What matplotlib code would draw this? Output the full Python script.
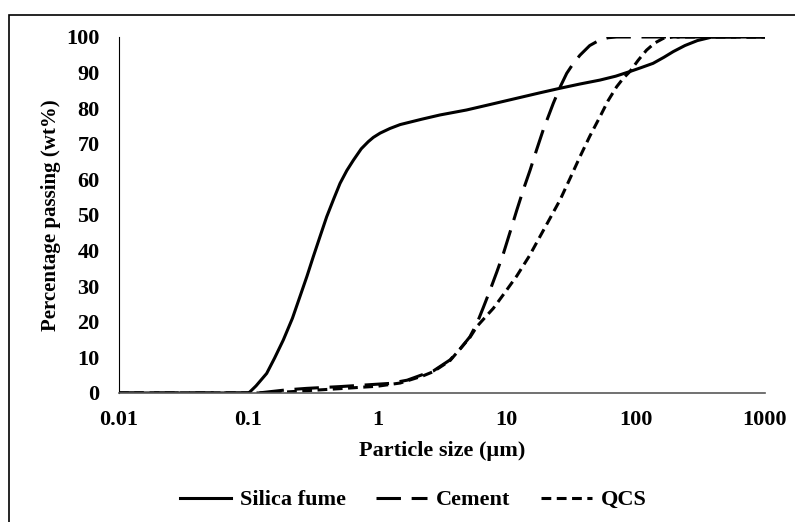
import numpy as np
import matplotlib.pyplot as plt
from matplotlib.patches import Rectangle

# particle size (um) and percentage passing
sf_size = [0.01, 0.1, 0.103, 0.115, 0.139, 0.16, 0.187, 0.22, 0.251, 0.285, 0.319, 0.36, 0.405,
           0.46, 0.514, 0.58, 0.652, 0.75, 0.85, 0.93, 1.05, 1.25, 1.5, 2.2, 3.05, 4.9, 8, 12, 18, 25.9,
           37, 52.8, 70, 90, 110, 136, 165, 195, 240, 300, 390, 1000]
sf_pass = [0, 0, 0.3, 2, 5.5, 9.8, 14.9, 21, 27, 32.8, 38.3, 44, 49.5,
           54.6, 58.9, 62.5, 65.4, 68.6, 70.6, 71.8, 73, 74.3, 75.4, 76.9, 78.1, 79.5, 81.3, 82.8, 84.3, 85.6,
           86.8, 87.9, 89, 90.3, 91.4, 92.6, 94.3, 95.9, 97.6, 99, 100, 100]

cem_size = [0.01, 0.12, 0.15, 0.2, 0.284, 0.514, 1.25, 1.7, 2.25, 2.71, 3.65, 4.4, 5.2, 5.9, 6.6,
            7.45, 8.4, 9.45, 10.7, 12, 13.5, 15.2, 17.1, 19.2, 23, 26, 29.2, 33, 37, 44, 52.8,
            61, 71, 1000]
cem_pass = [0, 0, 0.4, 0.9, 1.3, 1.8, 2.7, 3.6, 5.2, 6.2, 9.3, 12.5, 15.8, 19.6, 24,
            28.9, 34, 39.2, 45.5, 51.4, 57.2, 62.6, 68.4, 73.9, 81.4, 86, 89.8, 92.7, 94.9, 97.6, 99.2,
            99.8, 100, 100]

qcs_size = [0.01, 0.12, 0.2, 0.3, 0.5, 1, 1.5, 2.25, 2.71, 3.65, 5.2, 5.9, 6.8, 7.9, 9.6, 12,
            15, 18.1, 21.7, 25.9, 31, 37, 44, 52.8, 61, 71, 80, 90, 104, 121, 140, 163, 195, 1000]
qcs_pass = [0, 0, 0.3, 0.7, 1.2, 1.9, 2.8, 4.8, 6, 9.1, 15.6, 18.7, 21.2, 23.8, 28, 32.9,
            38.5, 43.9, 49.1, 54.2, 60.3, 66.4, 72.1, 77.6, 82.1, 86, 88.4, 90.3, 93.4, 96.3, 98.3, 99.6, 100, 100]

xticks = [0.01, 0.1, 1, 10, 100, 1000]
xtick_labels = ["0.01", "0.1", "1", "10", "100", "1000"]
yticks = list(range(0, 101, 10))

plt.rcParams['font.family'] = ['Liberation Serif', 'DejaVu Serif']
plt.rcParams['font.weight'] = 'bold'

fig = plt.figure(figsize=(7.95, 5.22), dpi=100)
ax = fig.add_axes([119/795, 1 - 393/522, (765 - 119)/795, (393 - 37)/522])

ax.plot(sf_size, sf_pass, color='black', lw=2.2, label='Silica fume')
ax.plot(cem_size, cem_pass, color='black', lw=2.2, dashes=(8, 3.5), label='Cement')
ax.plot(qcs_size, qcs_pass, color='black', lw=2.2, dashes=(3.2, 1.8), label='QCS')

ax.set_xscale('log')
ax.set_xlim(0.01, 1000)
ax.set_ylim(0, 100)
ax.set_xticks(xticks)
ax.set_xticklabels(xtick_labels)
ax.minorticks_off()
ax.set_yticks(yticks)
ax.tick_params(length=0, labelsize=16)
ax.tick_params(axis='x', pad=12)
ax.tick_params(axis='y', pad=14)
for lab in ax.get_xticklabels() + ax.get_yticklabels():
    lab.set_fontweight('bold')

ax.spines['top'].set_visible(False)
ax.spines['right'].set_visible(False)
ax.spines['left'].set_color('black')
ax.spines['left'].set_linewidth(0.8)
ax.spines['bottom'].set_color('#595959')
ax.spines['bottom'].set_linewidth(1.2)

ax.set_xlabel("Particle size (µm)", fontsize=16, fontweight='bold', labelpad=8)
ax.set_ylabel("Percentage passing (wt%)", fontsize=15, fontweight='bold', labelpad=4)

fig.legend(loc='center', bbox_to_anchor=(0.52, 1 - 500/522), ncol=3, frameon=False,
           prop={'size': 16, 'weight': 'bold'}, handlelength=2.3, columnspacing=1.35,
           handletextpad=0.4)

fig.patches.append(Rectangle((9/795, -0.1), 1.2, 1 - 15/522 + 0.1, transform=fig.transFigure,
                             fill=False, edgecolor='black', lw=1.2))

fig.savefig("out.png", dpi=100)
